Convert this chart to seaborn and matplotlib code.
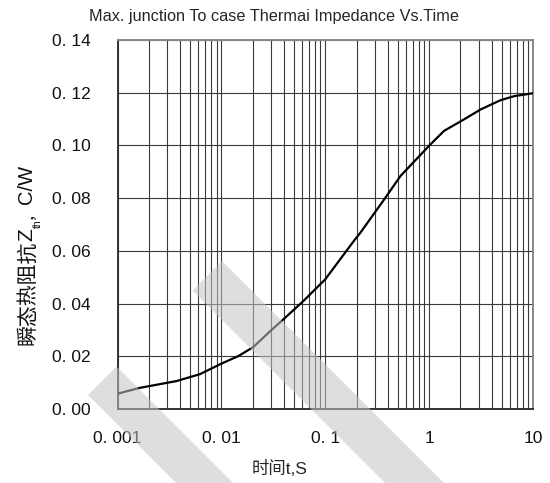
import numpy as np
import pandas as pd
import seaborn as sns
import matplotlib
matplotlib.use("Agg")
import matplotlib.pyplot as plt
from matplotlib.ticker import FixedLocator, FixedFormatter, NullFormatter
from matplotlib.patches import Polygon

# ---- data ----
time_s = [0.001, 0.00163, 0.0037, 0.0062, 0.01, 0.0146, 0.0203, 0.03, 0.0395,
          0.0617, 0.0894, 0.1, 0.188, 0.218, 0.38, 0.53, 0.995, 1.39, 2.17,
          3.15, 4.9, 6.6, 10.0]
zth = [0.0058, 0.0080, 0.0106, 0.0132, 0.0172, 0.0201, 0.0235, 0.0298, 0.0340,
       0.0410, 0.0473, 0.0492, 0.0637, 0.0669, 0.0802, 0.0884, 0.0998, 0.1055,
       0.1099, 0.1137, 0.1172, 0.1187, 0.1198]

x_ticks = [0.001, 0.01, 0.1, 1, 10]
x_tick_labels = ["0. 001", "0. 01", "0. 1", "1", "10"]
y_ticks = [0.00, 0.02, 0.04, 0.06, 0.08, 0.10, 0.12, 0.14]
y_tick_labels = ["0. 00", "0. 02", "0. 04", "0. 06", "0. 08", "0. 10", "0. 12", "0. 14"]

title = "Max. junction To case Thermai Impedance Vs.Time"
xlabel = "时间t,S"
# y label pieces: (text, fontsize, family, baseline x in px)
ylabel_parts = [
    ("瞬态热阻抗", 15, ["Noto Sans CJK SC", "DejaVu Sans"], 33),
    ("Z", 15, ["Liberation Sans", "DejaVu Sans"], 32),
    ("th", 7.5, ["Liberation Sans", "DejaVu Sans"], 41),
    ("，", 11, ["Noto Sans CJK SC", "DejaVu Sans"], 33),
    ("C/W", 14.5, ["Liberation Sans", "DejaVu Sans"], 32),
]

df = pd.DataFrame({"t": time_s, "z": zth})

sns.set_theme(style="white")
plt.rcParams["font.family"] = ["Liberation Sans", "Noto Sans CJK SC", "DejaVu Sans"]

W, H = 550, 483
fig = plt.figure(figsize=(W / 100, H / 100), dpi=100)
ax = fig.add_axes([117.5 / W, 1 - 409 / H, (533 - 117.5) / W, (409 - 40) / H])

sns.lineplot(data=df, x="t", y="z", ax=ax, color="black", linewidth=1.6, zorder=5)

ax.set_xscale("log")
ax.set_xlim(0.001, 10)
ax.set_ylim(0, 0.14)

minor = [m * 10.0 ** e for e in range(-3, 1) for m in range(2, 10)]
ax.xaxis.set_major_locator(FixedLocator(x_ticks))
ax.xaxis.set_major_formatter(FixedFormatter(x_tick_labels))
ax.xaxis.set_minor_locator(FixedLocator(minor))
ax.xaxis.set_minor_formatter(NullFormatter())
ax.yaxis.set_major_locator(FixedLocator(y_ticks))
ax.yaxis.set_major_formatter(FixedFormatter(y_tick_labels))

ax.grid(True, which="both", axis="x", color="#3a3a3a", linewidth=0.8)
ax.grid(True, which="major", axis="y", color="#3a3a3a", linewidth=0.8)
ax.tick_params(axis="both", which="both", length=0, labelsize=12.5, colors="#111111")
ax.tick_params(axis="x", pad=15.5)
ax.tick_params(axis="y", pad=19.5)

for side in ["left", "bottom"]:
    ax.spines[side].set_color("#333333")
    ax.spines[side].set_linewidth(1.4)
for side in ["top", "right"]:
    ax.spines[side].set_color("#888888")
    ax.spines[side].set_linewidth(1.4)

ax.set_xlabel("")
ax.set_ylabel("")

fig.text(274 / W, 1 - 16 / H, title, ha="center", va="center", fontsize=11.7,
         family=["Liberation Sans", "DejaVu Sans"])
fig.text(280 / W, 1 - 468 / H, xlabel, ha="center", va="center", fontsize=12.5,
         family=["Liberation Sans", "Noto Sans CJK SC", "DejaVu Sans"])

# rotated y label built from pieces (subscript "th")
renderer = fig.canvas.get_renderer()
y_px = 345.0  # bottom end of the label, image pixels from top
for txt, fs, fam, bx in ylabel_parts:
    t = fig.text(bx / W, 1 - y_px / H, txt, rotation=90, rotation_mode="anchor",
                 ha="left", va="baseline", fontsize=fs, family=fam, color="#111111")
    bb = t.get_window_extent(renderer)
    y_px = H - bb.y1

# ---- diagonal watermark bands over the chart ----
def px(pts):
    return [(x / W, 1 - y / H) for x, y in pts]

bands = [
    [(222, 261), (451, 490), (392, 490), (192.5, 290.5)],
    [(116.5, 366.5), (240, 490), (183, 490), (88, 395)],
]
for b in bands:
    fig.patches.append(Polygon(px(b), closed=True, transform=fig.transFigure,
                               facecolor="#c4c4c4", edgecolor="none", alpha=0.55,
                               zorder=20))

fig.savefig("out.png", dpi=100)
